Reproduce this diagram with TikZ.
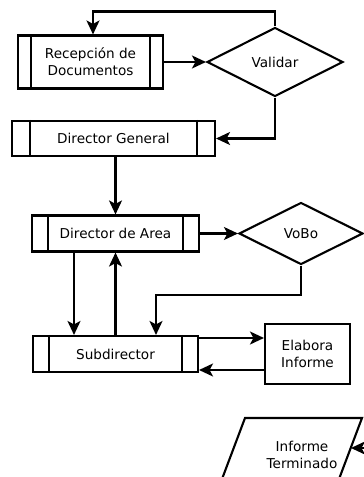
\documentclass[tikz,border=0pt]{standalone}
\usepackage{fontspec}
\setmainfont{DejaVu Sans}
\usetikzlibrary{shapes.geometric,arrows.meta,calc}
\begin{document}
\begin{tikzpicture}[x=1pt,y=-1pt,
  every node/.style={font=\fontsize{13.6}{17}\selectfont, align=center, inner sep=0pt},
  lw/.style={line width=2.1pt},
  proc/.style={draw, lw, rectangle},
  dec/.style={draw, lw, diamond, aspect=2},
  arr/.style={lw, -{Stealth[length=14pt,width=13pt,inset=3.5pt]}},
  ln/.style={lw}
]
\useasboundingbox (0,0) rectangle (364,477);
\fill[white] (0,0) rectangle (364,477);

\node[proc, minimum width=145pt, minimum height=53pt] (rec) at (90.5,62) {Recepción de\\Documentos};
\node[dec, minimum width=136pt, minimum height=69pt] (val) at (275,62) {Validar};
\node[proc, minimum width=203pt, minimum height=35pt] (dg) at (113.5,138.5) {Director General};
\node[proc, minimum width=167pt, minimum height=36pt] (da) at (115.5,233.5) {Director de Area};
\node[dec, minimum width=124pt, minimum height=62pt] (vobo) at (301,233.5) {VoBo};
\node[proc, minimum width=165pt, minimum height=36pt] (sub) at (115.5,354) {Subdirector};
\node[proc, minimum width=85pt, minimum height=60pt] (ela) at (307.5,354) {Elabora\\Informe};
\node (inf) at (302,455) {Informe\\Terminado};
\draw[lw] (245,418) -- (362,418) -- (333,495) -- (216,495) -- cycle;
\coordinate (infR) at (351,448);
\coordinate (outR) at (380,448);

% inner lines of process boxes
\foreach \n/\d in {rec/14, dg/19, da/17, sub/17}{
  \draw[ln] ([xshift=\d pt]\n.north west) -- ([xshift=\d pt]\n.south west);
  \draw[ln] ([xshift=-\d pt]\n.north east) -- ([xshift=-\d pt]\n.south east);
}

% connectors
\draw[arr] (rec.east) -- (val.west);
\draw[arr] (val.north) -- ++(0,-15) -| ([xshift=2.5pt]rec.north);
\draw[arr] (val.south) |- (dg.east);
\draw[arr] (dg.south -| da.north) -- (da.north);
\draw[arr] (da.east) -- (vobo.west);
\draw[arr] (vobo.south) -- ++(0,29) -| ([xshift=40.5pt]sub.north);
\draw[arr] ([xshift=-41.5pt]da.south) -- ([xshift=-41.5pt]sub.north);
\draw[arr] (sub.north) -- (da.south);
\draw[arr] ([yshift=16pt]sub.east) -- ([yshift=16pt]sub.east -| ela.west);
\draw[arr] ([yshift=-16pt]ela.west) -- ([yshift=-16pt]ela.west -| sub.east);
\draw[arr] (outR) -- (infR);
\end{tikzpicture}
\end{document}
